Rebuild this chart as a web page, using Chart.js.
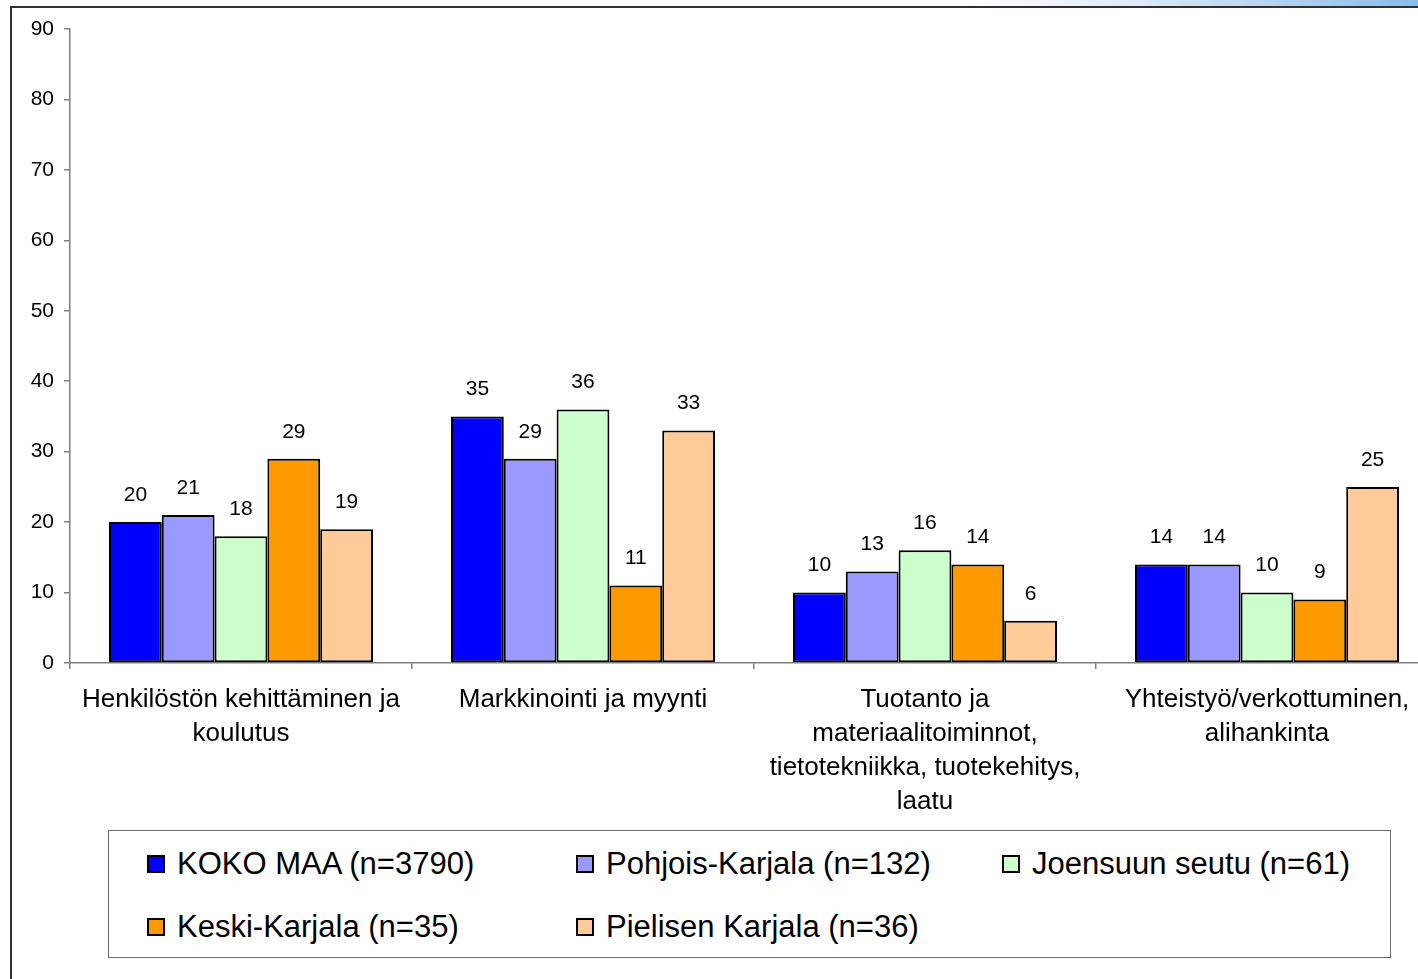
<!DOCTYPE html>
<html>
<head>
<meta charset="utf-8">
<script src="https://cdn.jsdelivr.net/npm/chart.js@4/dist/chart.umd.min.js"></script>
<style>
    html, body { margin: 0; padding: 0; background: #fff; overflow: hidden; width: 1418px; height: 979px; }
    body { position: relative; font-family: 'Liberation Sans', Arial, sans-serif; }
    #topband { position: absolute; left: 0; top: 0; width: 1418px; height: 6px;
        background: linear-gradient(to right, #ffffff 0%, #ffffff 68%, #dfeaf7 80%, #86bde8 100%); }
    #frame { position: absolute; left: 10px; top: 6px; width: 1500px; height: 1100px;
        border: 2px solid #303030; box-sizing: border-box; }
    #chart { position: absolute; left: 0; top: 0; }
    #legend { position: absolute; left: 108px; top: 830px; width: 1283px; height: 128px;
        border: 1.5px solid #6a6a6a; box-sizing: border-box; background: #fff; }
    .item { position: absolute; display: flex; align-items: center; font-size: 31px; color: #000; white-space: nowrap; }
    .swatch { width: 14px; height: 14px; border: 2px solid #000; margin-right: 12px; }
</style>
</head>
<body>
<div id="topband"></div>
<div id="frame"></div>
<canvas id="chart" width="1460" height="979"></canvas>
<div id="legend"></div>
<script>
// categories (multi-line x labels)
const categories = [
    ['Henkilöstön kehittäminen ja', 'koulutus'],
    ['Markkinointi ja myynti'],
    ['Tuotanto ja', 'materiaalitoiminnot,', 'tietotekniikka, tuotekehitys,', 'laatu'],
    ['Yhteistyö/verkottuminen,', 'alihankinta']
];

// series
const seriesNames = [
    'KOKO MAA (n=3790)',
    'Pohjois-Karjala (n=132)',
    'Joensuun seutu (n=61)',
    'Keski-Karjala (n=35)',
    'Pielisen Karjala (n=36)'
];
const kokoMaa = [20, 35, 10, 14];
const pohjoisKarjala = [21, 29, 13, 14];
const joensuunSeutu = [18, 36, 16, 10];
const keskiKarjala = [29, 11, 14, 9];
const pielisenKarjala = [19, 33, 6, 25];

const seriesColors = ['#0000ff', '#9999ff', '#ccffcc', '#ff9900', '#ffcc99'];

const FONT = "'Liberation Sans', Arial, sans-serif";
const AXIS_GREY = '#808080';

const allSeries = [kokoMaa, pohjoisKarjala, joensuunSeutu, keskiKarjala, pielisenKarjala];

// value labels above each bar
const valueLabels = {
    id: 'valueLabels',
    afterDatasetsDraw(chart) {
        const ctx = chart.ctx;
        ctx.save();
        ctx.font = '21px ' + FONT;
        ctx.fillStyle = '#000';
        ctx.textAlign = 'center';
        ctx.textBaseline = 'middle';
        chart.data.datasets.forEach((ds, i) => {
            chart.getDatasetMeta(i).data.forEach((bar, j) => {
                ctx.fillText(String(ds.data[j]), bar.x, bar.y - 27);
            });
        });
        ctx.restore();
    }
};

new Chart(document.getElementById('chart').getContext('2d'), {
    type: 'bar',
    data: {
        labels: categories,
        datasets: allSeries.map((values, i) => ({
            label: seriesNames[i],
            data: values,
            backgroundColor: seriesColors[i],
            borderColor: '#000',
            borderWidth: 2,
            borderSkipped: false,
            barPercentage: 1,
            categoryPercentage: 0.772
        }))
    },
    options: {
        responsive: false,
        animation: false,
        devicePixelRatio: 1,
        layout: { padding: { top: 29, right: 22, bottom: 0, left: 0 } },
        plugins: {
            legend: { display: false },
            tooltip: { enabled: false }
        },
        scales: {
            x: {
                afterFit(scale) { scale.height = 316; },
                grid: {
                    display: true,
                    drawOnChartArea: false,
                    offset: true,
                    tickLength: 6,
                    color: AXIS_GREY,
                    lineWidth: 1.5
                },
                border: { color: AXIS_GREY, width: 1.5 },
                ticks: {
                    color: '#000',
                    font: { family: FONT, size: 26, lineHeight: 1.31 },
                    maxRotation: 0,
                    autoSkip: false,
                    padding: 14
                }
            },
            y: {
                min: 0,
                max: 90,
                afterFit(scale) { scale.width = 70; },
                grid: {
                    display: true,
                    drawOnChartArea: false,
                    tickLength: 6,
                    color: AXIS_GREY,
                    lineWidth: 1.5
                },
                border: { color: AXIS_GREY, width: 1.5 },
                ticks: {
                    stepSize: 10,
                    color: '#000',
                    font: { family: FONT, size: 21 },
                    padding: 10
                }
            }
        }
    },
    plugins: [valueLabels]
});

// legend box (two rows, three columns)
const legendPos = [
    [38, 33], [467, 33], [893, 33],
    [38, 96], [467, 96]
];
const legendEl = document.getElementById('legend');
seriesNames.forEach((name, i) => {
    const item = document.createElement('div');
    item.className = 'item';
    item.style.left = legendPos[i][0] + 'px';
    item.style.top = (legendPos[i][1] - 18) + 'px';
    const sw = document.createElement('span');
    sw.className = 'swatch';
    sw.style.background = seriesColors[i];
    item.appendChild(sw);
    item.appendChild(document.createTextNode(name));
    legendEl.appendChild(item);
});
</script>
</body>
</html>
